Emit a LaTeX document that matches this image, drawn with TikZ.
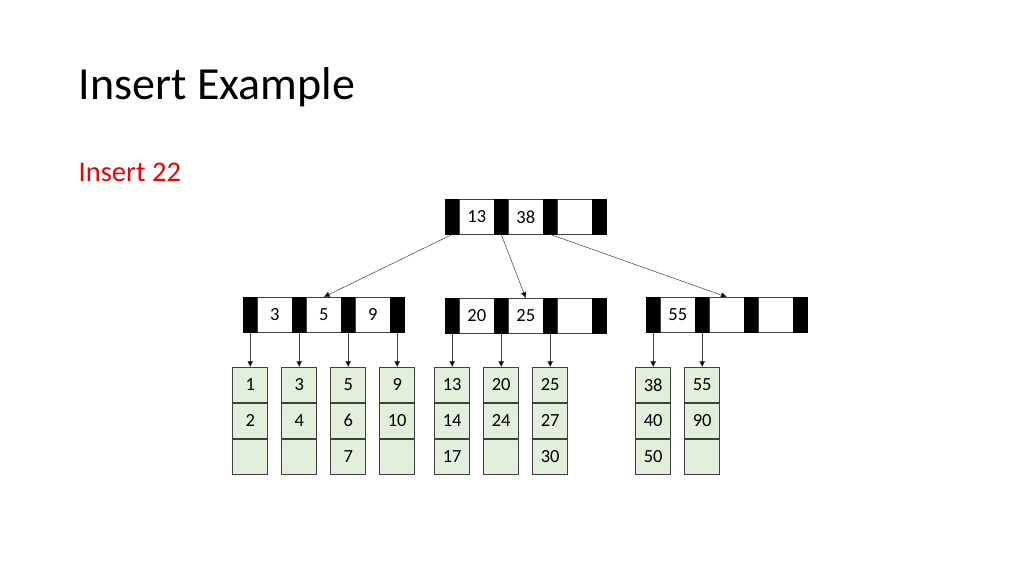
\documentclass[tikz,border=0pt]{standalone}
\usepackage{fontspec}
\setmainfont{Carlito}
\usetikzlibrary{arrows.meta}
\definecolor{leafgreen}{RGB}{226,239,218}
\definecolor{edgegray}{RGB}{64,64,64}
\definecolor{titlered}{RGB}{240,0,0}
\tikzset{
  bar/.style={draw=black, fill=black, minimum width=14pt, minimum height=35pt, inner sep=0pt, anchor=north west},
  keycell/.style={draw=edgegray, line width=0.6pt, fill=white, minimum width=35pt, minimum height=35pt, inner sep=0pt, anchor=north west, font=\fontsize{18.5}{20}\selectfont},
  leafcell/.style={draw=edgegray, line width=0.8pt, fill=leafgreen, minimum width=35pt, minimum height=35pt, inner sep=0pt, anchor=north, font=\fontsize{18.5}{20}\selectfont},
  arr/.style={draw=edgegray, line width=0.5pt, -{Triangle[width=5.5pt,length=6pt,fill=black]}},
}
% internal node: name, x, y, key1, key2, key3
\newcommand\inode[6]{%
  \node[bar] (#1-b0) at (#2,#3) {};
  \node[keycell] (#1-k0) at ({#2+14},#3) {#4};
  \node[bar] (#1-b1) at ({#2+49},#3) {};
  \node[keycell] (#1-k1) at ({#2+63},#3) {#5};
  \node[bar] (#1-b2) at ({#2+98},#3) {};
  \node[keycell] (#1-k2) at ({#2+112},#3) {#6};
  \node[bar] (#1-b3) at ({#2+147},#3) {};
}
% leaf: name, parent bar node, v1, v2, v3
\newcommand\leafnode[5]{%
  \coordinate (#1-top) at (#2.south |- 0,367);
  \node[leafcell] (#1-c0) at (#1-top) {#3};
  \node[leafcell] (#1-c1) at (#1-c0.south) {#4};
  \node[leafcell] (#1-c2) at (#1-c1.south) {#5};
  \draw[arr] (#2.south) -- (#1-c0.north);
}
\begin{document}
\begin{tikzpicture}[x=1pt,y=-1pt]
\useasboundingbox (0,0) rectangle (1024,576);
\fill[white] (0,0) rectangle (1024,576);
\node[anchor=base west, inner sep=0pt, font=\fontsize{46}{50}\selectfont] (title) at (78.5,99) {Insert Example};
\node[anchor=base west, inner sep=0pt, text=titlered, font=\fontsize{28.5}{30}\selectfont] (sub) at (78.5,181) {Insert 22};

\inode{R}{445}{199}{13}{38}{}
\inode{A}{243}{297}{3}{5}{9}
\inode{B}{445}{298}{20}{25}{}
\inode{C}{646}{297}{55}{}{}

\draw[arr] (R-b0.south) -- (A-k1.north);
\draw[arr] (R-b1.south) -- (B-k1.north);
\draw[arr] (R-b2.south) -- (C-k1.north);

\leafnode{L1}{A-b0}{1}{2}{}
\leafnode{L2}{A-b1}{3}{4}{}
\leafnode{L3}{A-b2}{5}{6}{7}
\leafnode{L4}{A-b3}{9}{10}{}
\leafnode{L5}{B-b0}{13}{14}{17}
\leafnode{L6}{B-b1}{20}{24}{}
\leafnode{L7}{B-b2}{25}{27}{30}
\leafnode{L8}{C-b0}{38}{40}{50}
\leafnode{L9}{C-b1}{55}{90}{}
\end{tikzpicture}
\end{document}
